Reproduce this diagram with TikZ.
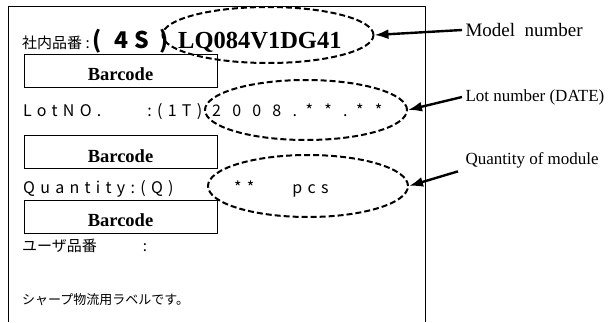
\documentclass[tikz,border=0pt]{standalone}
\usepackage{fontspec}
\setmainfont{Liberation Serif}
\newfontfamily\jpfont{Noto Sans CJK JP}
\newfontfamily\spcfont[LetterSpace=33]{Noto Sans CJK JP}
\newfontfamily\digfont[LetterSpace=70]{Noto Sans CJK JP}
\usetikzlibrary{shapes.geometric,arrows.meta,positioning}
\tikzset{
  callout/.style={draw, ellipse, dash pattern=on 6pt off 3pt, line width=2pt},
  barcode/.style={draw, line width=0.8pt, minimum width=193pt, minimum height=33pt,
    text height=20pt, text depth=0pt, font=\bfseries\fontsize{18.5}{20}\selectfont},
  rowtext/.style={anchor=base west, inner sep=0pt},
  pointer/.style={line width=2.4pt, -{Latex[length=14pt,width=10pt]}},
}
\begin{document}
\begin{tikzpicture}[x=1pt,y=-1pt]
\useasboundingbox (0,0) rectangle (616,322);

% label outline
\draw[line width=0.8pt] (8,322) -- (8,6) -- (425,6) -- (425,322);

% part number section
\node[rowtext, font=\jpfont\fontsize{15}{18}\selectfont] (partNo) at (22,48) {社内品番 :};
\node[rowtext, font=\jpfont\bfseries\fontsize{23}{26}\selectfont] (partCode) at (92,48) {(\hspace{13pt}4\hspace{6pt}S\hspace{10pt})};
\node[rowtext, font=\bfseries\fontsize{24.5}{28}\selectfont] (partVal) at (178,48) {LQ084V1DG41};
\node[barcode] (barcodeA) at (120.5,70.5) {Barcode};

% lot number section
\node[rowtext, font=\spcfont\fontsize{16}{18}\selectfont] (lotNo) at (23,116) {LotNO.\hspace{46pt}:(1T)};
\node[rowtext, font=\digfont\fontsize{16}{18}\selectfont] (lotVal) at (212,116) {2008.**.**};
\node[barcode] (barcodeB) at (120.5,152) {Barcode};

% quantity section
\node[rowtext, font=\spcfont\fontsize{16}{18}\selectfont] (qtyNo) at (23,193) {Quantity:(Q)};
\node[rowtext, font=\spcfont\fontsize{16}{18}\selectfont] (qtyVal) at (234,193) {**\hspace{38pt}pcs};
\node[barcode] (barcodeC) at (120.5,216.5) {Barcode};

% user part number and footer
\node[rowtext, font=\jpfont\fontsize{15}{18}\selectfont] (userNo) at (22,251) {ユーザ品番\hspace{46pt}:};
\node[rowtext, font=\jpfont\fontsize{13}{16}\selectfont] (footer) at (22,304) {シャープ物流用ラベルです。};

% dashed callouts
\node[callout, minimum width=211pt, minimum height=56pt] (modelEll) at (268,35) {};
\node[callout, minimum width=202pt, minimum height=60pt] (lotEll) at (306,110) {};
\node[callout, minimum width=200pt, minimum height=62pt] (qtyEll) at (308,186) {};

% explanations
\node[anchor=west, font=\fontsize{19}{22}\selectfont] (modelText) at (462,30) {Model\ \ number};
\node[anchor=west, font=\fontsize{17}{20}\selectfont] (lotText) at (462,97) {Lot number (DATE)};
\node[anchor=west, font=\fontsize{17}{20}\selectfont] (qtyText) at (462,160) {Quantity of module};
\draw[pointer] (modelText.west) -- (modelEll.east);
\draw[pointer] (lotText.west) -- (lotEll.east);
\draw[pointer] ([xshift=-4pt]qtyText.south west) -- (qtyEll.east);

\end{tikzpicture}
\end{document}
